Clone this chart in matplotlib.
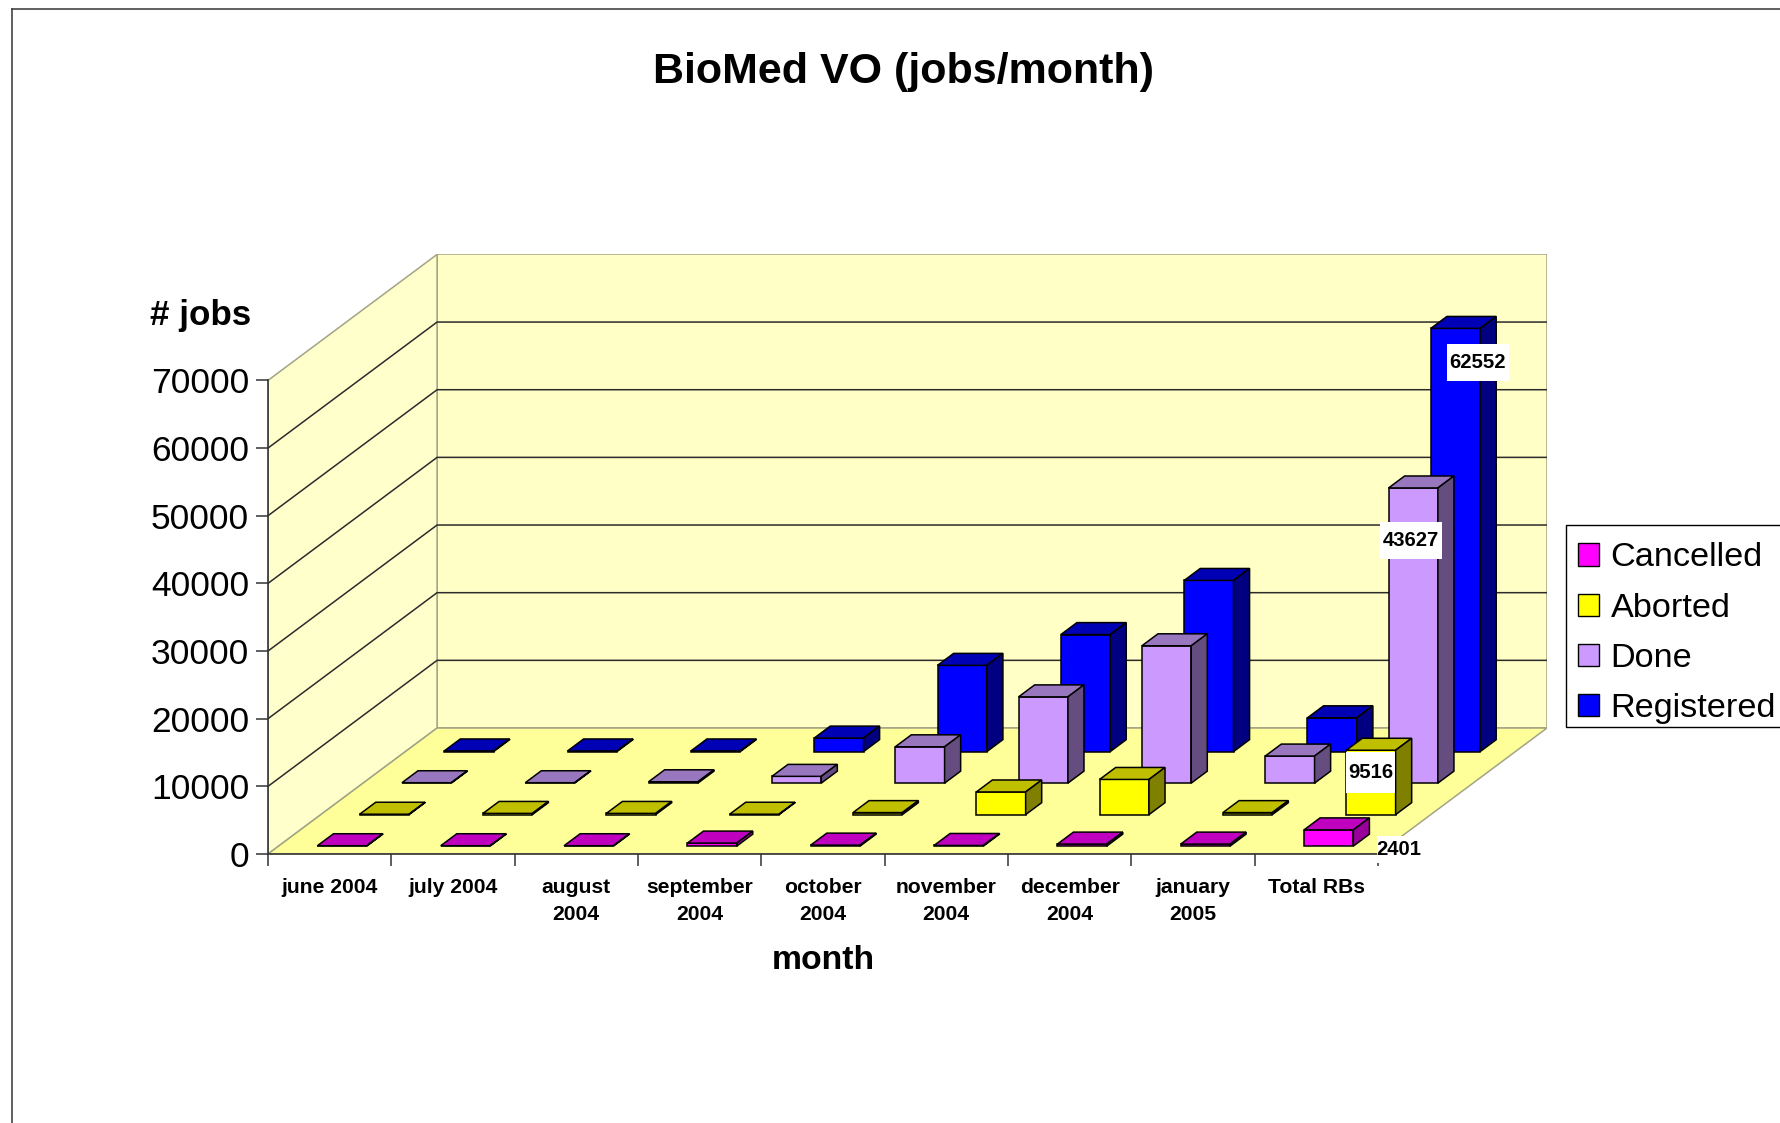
import matplotlib
matplotlib.use('Agg')
import matplotlib.pyplot as plt
from matplotlib.patches import Patch, Polygon, Rectangle
from matplotlib.lines import Line2D

plt.rcParams['font.family'] = ['Liberation Sans', 'DejaVu Sans']

months = ['june 2004', 'july 2004', 'august\n2004', 'september\n2004', 'october\n2004',
          'november\n2004', 'december\n2004', 'january\n2005', 'Total RBs']
cancelled = [60, 60, 60, 450, 150, 100, 300, 300, 2401]
aborted = [60, 180, 180, 60, 300, 3350, 5200, 300, 9516]
done = [60, 60, 200, 1000, 5370, 12750, 20300, 4000, 43627]
registered = [100, 100, 100, 2000, 12750, 17300, 25300, 5000, 62552]
y_ticks = [0, 10000, 20000, 30000, 40000, 50000, 60000, 70000]

# one depth unit on screen, in data units of the axes
DEPTH_X = 1.371
DEPTH_Y = 18624
YMAX = 70000
NCAT = len(months)


def proj(x, d, v):
    return (x + DEPTH_X * d, v + DEPTH_Y * d)


def face(ax, pts, color, edge='black', lw=1.1, z=2):
    ax.add_patch(Polygon([proj(*p) for p in pts], closed=True, facecolor=color,
                         edgecolor=edge, linewidth=lw, joinstyle='miter', zorder=z))


def draw_bar(ax, x0, x1, d0, d1, v, colors, z):
    front, top, side = colors
    face(ax, [(x0, d0, 0), (x1, d0, 0), (x1, d0, v), (x0, d0, v)], front, z=z)
    face(ax, [(x0, d0, v), (x1, d0, v), (x1, d1, v), (x0, d1, v)], top, z=z)
    face(ax, [(x1, d0, 0), (x1, d1, 0), (x1, d1, v), (x1, d0, v)], side, z=z)


fig = plt.figure(figsize=(17.81, 11.23), dpi=100, facecolor='white')
ax = fig.add_axes([268 / 1781, 1 - 854 / 1123, (1547 - 268) / 1781, (854 - 254.4) / 1123])
ax.set_xlim(0, NCAT + DEPTH_X)
ax.set_ylim(0, YMAX + DEPTH_Y)
ax.patch.set_visible(False)

# walls and floor
wall_edge = '#a3a385'
face(ax, [(0, 1, 0), (NCAT, 1, 0), (NCAT, 1, YMAX), (0, 1, YMAX)], '#ffffc6', edge=wall_edge, z=1)
face(ax, [(0, 0, 0), (0, 1, 0), (0, 1, YMAX), (0, 0, YMAX)], '#ffffcc', edge=wall_edge, z=1)
face(ax, [(0, 0, 0), (NCAT, 0, 0), (NCAT, 1, 0), (0, 1, 0)], '#ffff99', edge=wall_edge, z=1)

for v in y_ticks[1:-1]:
    xs, ys = zip(proj(0, 0, v), proj(0, 1, v), proj(NCAT, 1, v))
    ax.plot(xs, ys, color='#2b2b2b', lw=1.1, zorder=1.5)

# bars, from the back row to the front row
series = [
    (registered, ('#0000ff', '#0000b4', '#000080')),
    (done, ('#cc99ff', '#9977bf', '#664d80')),
    (aborted, ('#ffff00', '#bfbf00', '#808000')),
    (cancelled, ('#ff00ff', '#bf00bf', '#990099')),
]
bar_left = 0.315
bar_width = 0.40
bar_depth = 0.095
for row, (vals, colors) in enumerate(series):
    d0 = 0.75 - 0.25 * row + 0.0625
    for i, v in enumerate(vals):
        draw_bar(ax, i + bar_left, i + bar_left + bar_width, d0, d0 + bar_depth, v, colors, 3 + row)

# value labels on white boxes
label_texts = [str(registered[-1]), str(done[-1]), str(aborted[-1]), str(cancelled[-1])]
label_x = [9.81, 9.27, 8.94, 9.17]
label_y = [72650, 46300, 12080, 670]
label_w = [0.50, 0.50, 0.405, 0.36]
label_h = [5500, 5500, 6000, 3900]
for t, x, y, w, h in zip(label_texts, label_x, label_y, label_w, label_h):
    ax.add_patch(Rectangle((x - w / 2, y - h / 2), w, h, facecolor='white', edgecolor='none', zorder=8, clip_on=False))
    ax.text(x, y, t, ha='center', va='center', fontsize=14.6, fontweight='bold', zorder=9)

# axes
for s in ['top', 'right']:
    ax.spines[s].set_visible(False)
ax.spines['left'].set_bounds(0, YMAX)
ax.spines['bottom'].set_bounds(0, NCAT)
for s in ['left', 'bottom']:
    ax.spines[s].set_color('#333333')
    ax.spines[s].set_linewidth(1.2)
    ax.spines[s].set_zorder(7)

ax.set_yticks(y_ticks)
ax.tick_params(axis='y', length=8.6, width=1.1, color='#333333', pad=5, labelsize=25.5)
ax.set_xticks(range(NCAT + 1))
ax.set_xticklabels([])
ax.tick_params(axis='x', which='major', length=8.6, width=1.1, color='#333333')
ax.set_xticks([i + 0.5 for i in range(NCAT)], minor=True)
ax.set_xticklabels(months, minor=True, fontsize=15.2, fontweight='bold', linespacing=1.55)
ax.tick_params(axis='x', which='minor', length=0, pad=17)
ax.set_xlabel('month', fontsize=24.3, fontweight='bold')
ax.xaxis.set_label_coords(4.5 / (NCAT + DEPTH_X), -0.1525)

fig.text(251 / 1781, 1 - 316 / 1123, '# jobs', ha='right', va='center', fontsize=25.2, fontweight='bold')
fig.text(904 / 1781, 1 - 72 / 1123, 'BioMed VO (jobs/month)', ha='center', va='center', fontsize=31, fontweight='bold')

# legend box runs past the right edge of the picture, so it is drawn on its own
fig.add_artist(Rectangle((1566 / 1781, 1 - 727 / 1123), 300 / 1781, 202 / 1123, transform=fig.transFigure,
                         facecolor='white', edgecolor='black', linewidth=1.0))
handles = [
    Patch(facecolor='#ff00ff', edgecolor='black', label='Cancelled'),
    Patch(facecolor='#ffff00', edgecolor='black', label='Aborted'),
    Patch(facecolor='#cc99ff', edgecolor='black', label='Done'),
    Patch(facecolor='#0000ff', edgecolor='black', label='Registered'),
]
fig.legend(handles=handles, loc='upper left', bbox_to_anchor=(1578 / 1781, 1 - 542.5 / 1123),
           fontsize=24.7, frameon=False, borderaxespad=0, borderpad=0, handlelength=0.62,
           handleheight=0.62, handletextpad=0.33, labelspacing=0.56)

# outer chart border, its right and bottom sides are cut off in the picture
fig.add_artist(Line2D([12 / 1781, 12 / 1781], [0, 1 - 9 / 1123], color='#444444', lw=1.2))
fig.add_artist(Line2D([12 / 1781, 1], [1 - 9 / 1123, 1 - 9 / 1123], color='#444444', lw=1.2))

plt.savefig('out.png', dpi=100)
